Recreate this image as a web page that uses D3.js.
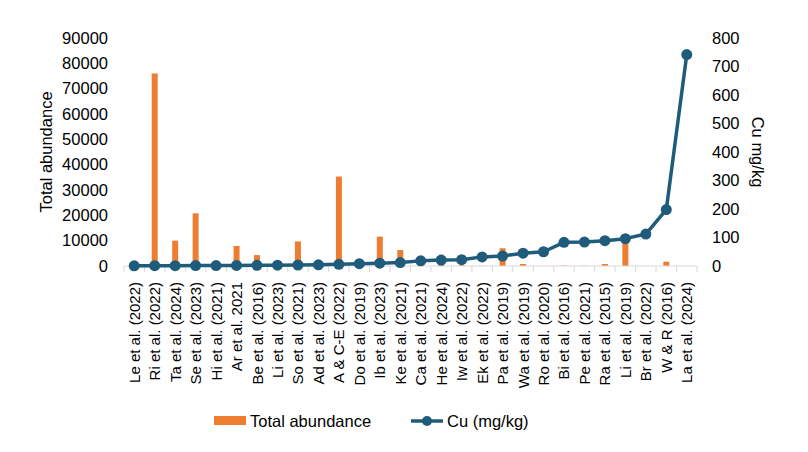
<!DOCTYPE html>
<html><head><meta charset="utf-8">
<script src="https://cdn.jsdelivr.net/npm/d3@7"></script>
<style>body{margin:0;background:#fff}svg{display:block}text{font-family:"Liberation Sans",Arial,sans-serif;fill:#000}</style>
</head><body><svg id="c" width="808" height="452"></svg>
<script>
const categories = ["Le et al. (2022)","Ri et al. (2022)","Ta et al. (2024)","Se et al. (2023)","Hi et al. (2021)","Ar et al. 2021","Be et al. (2016)","Li et al. (2023)","So et al. (2021)","Ad et al. (2023)","A & C-E (2022)","Do et al. (2019)","Ib et al. (2023)","Ke et al. (2021)","Ca et al. (2021)","He et al. (2024)","Iw et al. (2022)","Ek et al. (2022)","Pa et al. (2019)","Wa et al. (2019)","Ro et al. (2020)","Bi et al. (2016)","Pe et al. (2021)","Ra et al. (2015)","Li et al. (2019)","Br et al. (2022)","W & R (2016)","La et al. (2024)"];
const abundance = [1300,76000,10000,20800,0,7900,4300,0,9700,0,35300,0,11600,6300,0,400,300,100,7000,800,0,200,100,800,10800,0,1700,0];
const cu = [0.5,1,1,1.5,1.5,2,2.5,3,3.5,4,6,8,10,12,18,21,22,32,35,45,50,83,84,89,96,112,198,742];
const leftTicks = [0,10000,20000,30000,40000,50000,60000,70000,80000,90000];
const rightTicks = [0,100,200,300,400,500,600,700,800];

const svg = d3.select("#c");
const L = 124, R = 697, T = 38, B = 266;
const x = d3.scaleBand().domain(categories).range([L, R]);
const yL = d3.scaleLinear().domain([0, 90000]).range([B, T]);
const yR = d3.scaleLinear().domain([0, 800]).range([B, T]);
const orange = "#ED7D31", blue = "#1F5C7B";

// bars
svg.append("g").selectAll("rect").data(categories).join("rect")
  .attr("x", (d) => x(d) + x.bandwidth()/2 - 3)
  .attr("width", 6)
  .attr("y", (d,i) => yL(abundance[i]))
  .attr("height", (d,i) => B - yL(abundance[i]))
  .attr("fill", orange);

// x axis
const xa = svg.append("g").attr("transform", `translate(0,${B})`);
xa.append("line").attr("x1", L).attr("x2", R).attr("stroke", "#d9d9d9").attr("stroke-width", 1);
xa.selectAll(".tk").data(d3.range(categories.length + 1)).join("line")
  .attr("x1", i => L + i * x.step()).attr("x2", i => L + i * x.step())
  .attr("y1", 0).attr("y2", 6).attr("stroke", "#d9d9d9");
xa.selectAll("text").data(categories).join("text")
  .attr("transform", d => `translate(${x(d) + x.bandwidth()/2 + 5.5},16) rotate(-90)`)
  .attr("text-anchor", "end").style("font-size", "15px").text(d => d);

// left axis
const la = svg.append("g").attr("transform", `translate(${L},0)`)
  .call(d3.axisLeft(yL).tickValues(leftTicks).tickSize(0).tickPadding(16).tickFormat(d3.format("d")));
la.select(".domain").remove();
la.selectAll("text").style("font-size", "16.5px").attr("fill", "#000");

// right axis
const ra = svg.append("g").attr("transform", `translate(${R},0)`)
  .call(d3.axisRight(yR).tickValues(rightTicks).tickSize(0).tickPadding(15).tickFormat(d3.format("d")));
ra.select(".domain").remove();
ra.selectAll("text").style("font-size", "16.5px").attr("fill", "#000");

// titles
svg.append("text").attr("transform", `translate(52,${(T+B)/2}) rotate(-90)`)
  .attr("text-anchor", "middle").style("font-size", "16.5px").text("Total abundance");
svg.append("text").attr("transform", `translate(752,${(T+B)/2}) rotate(90)`)
  .attr("text-anchor", "middle").style("font-size", "16.5px").text("Cu mg/kg");

// line
const line = d3.line().x((d,i) => x(categories[i]) + x.bandwidth()/2).y(d => yR(d));
svg.append("path").datum(cu).attr("d", line).attr("fill", "none")
  .attr("stroke", blue).attr("stroke-width", 3.5).attr("stroke-linejoin", "round");
svg.append("g").selectAll("circle").data(cu).join("circle")
  .attr("cx", (d,i) => x(categories[i]) + x.bandwidth()/2)
  .attr("cy", d => yR(d)).attr("r", 5.5).attr("fill", blue);

// legend
const lg = svg.append("g");
lg.append("rect").attr("x", 214).attr("y", 416).attr("width", 32).attr("height", 9).attr("fill", orange);
lg.append("text").attr("x", 250).attr("y", 427).style("font-size", "16.5px").text("Total abundance");
lg.append("line").attr("x1", 411).attr("x2", 443).attr("y1", 421).attr("y2", 421).attr("stroke", blue).attr("stroke-width", 3.5);
lg.append("circle").attr("cx", 427).attr("cy", 421).attr("r", 5).attr("fill", blue);
lg.append("text").attr("x", 447).attr("y", 427).style("font-size", "16.5px").text("Cu (mg/kg)");
</script></body></html>
